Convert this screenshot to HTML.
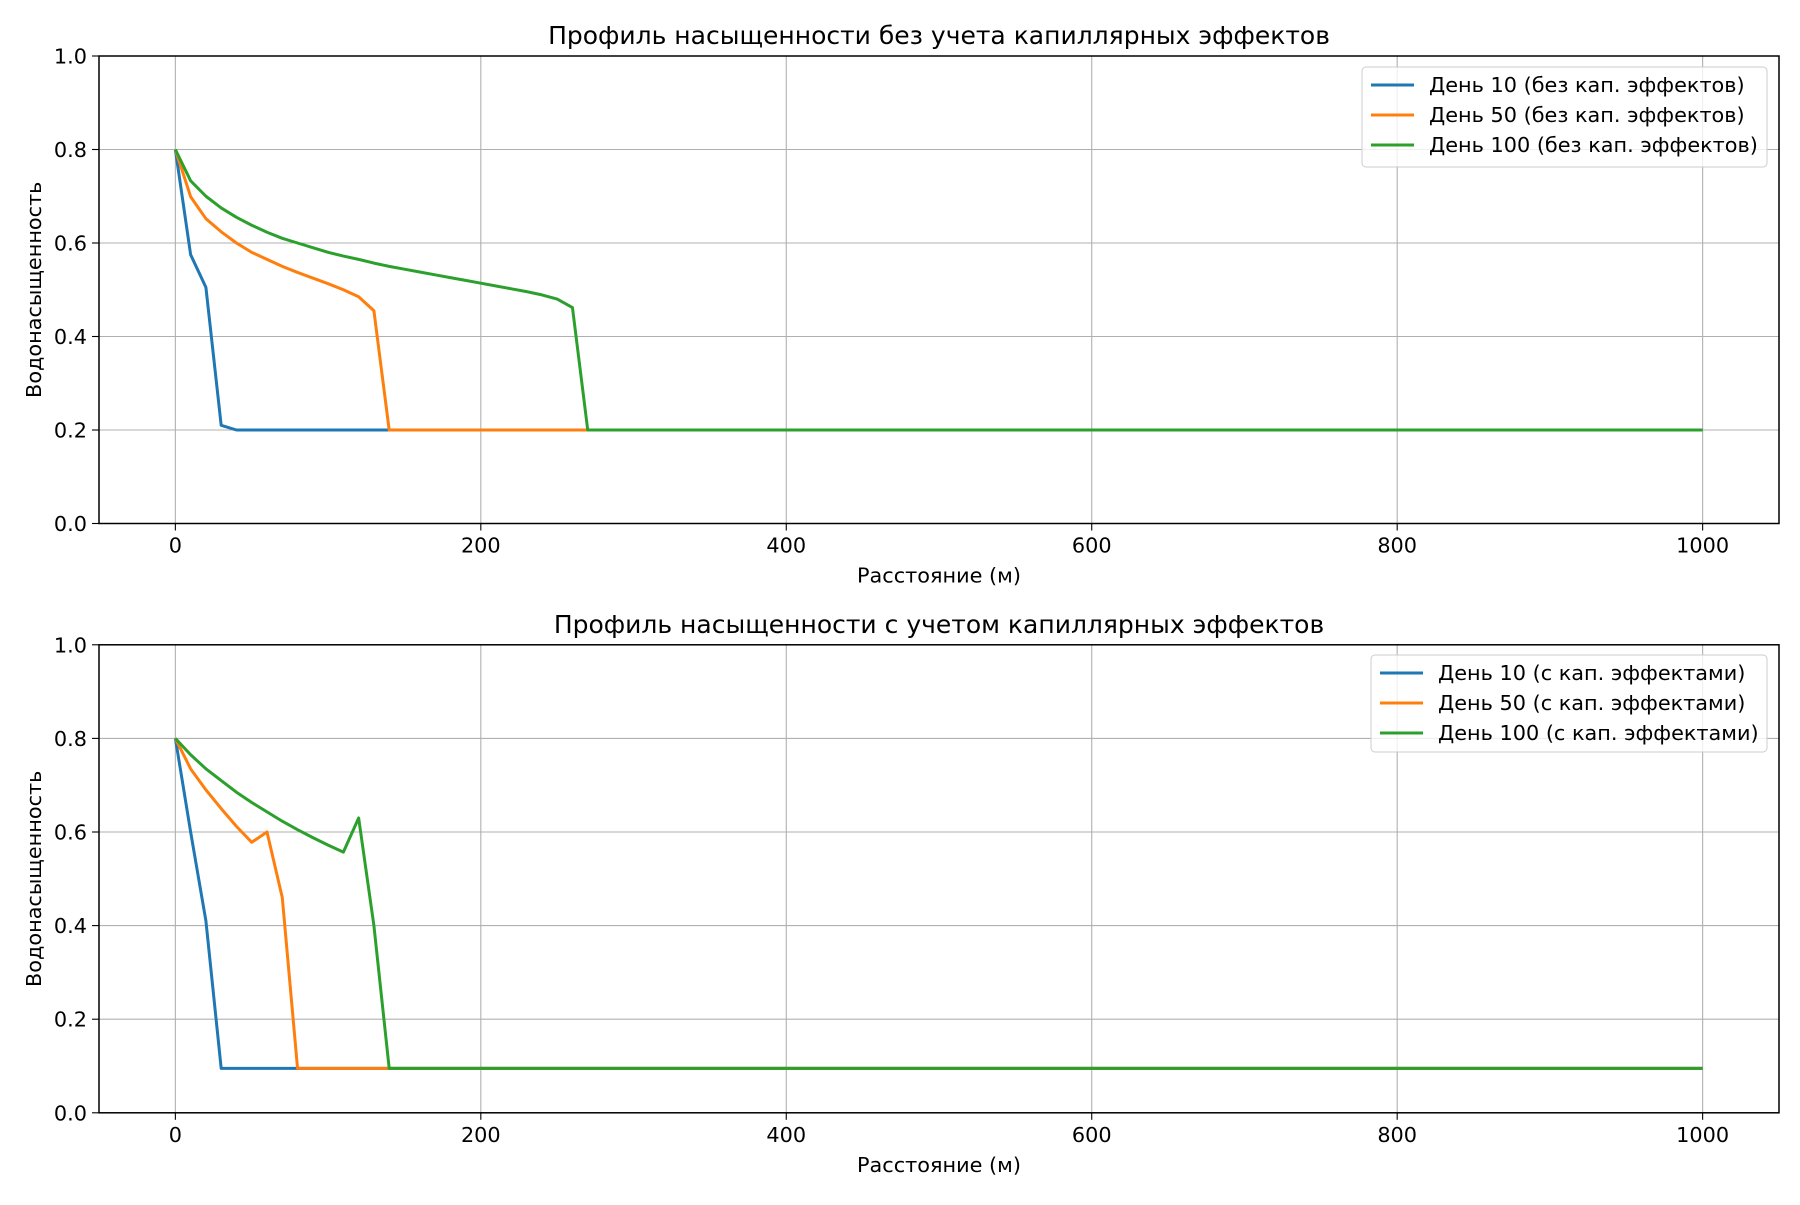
<!DOCTYPE html>
<html><head><meta charset="utf-8"><style>
body{margin:0;background:#fff}
svg text{font-family:"DejaVu Sans","Liberation Sans",sans-serif;fill:#000}
</style></head><body>
<svg id="fig" width="1800" height="1200" viewBox="0 0 1800 1200"></svg>
<script>
const xTicks=[0,200,400,600,800,1000];
const yTicks=[0.0,0.2,0.4,0.6,0.8,1.0];
const xTop10=[0,10,20,30,40,1000];
const yTop10=[0.8,0.575,0.505,0.21,0.2,0.2];
const xTop50=[0,10,20,30,40,50,60,70,80,90,100,110,120,130,140,1000];
const yTop50=[0.8,0.699,0.652,0.624,0.6,0.58,0.565,0.55,0.537,0.525,0.513,0.5,0.485,0.455,0.2,0.2];
const xTop100=[0,10,20,30,40,50,60,70,80,90,100,110,120,130,140,150,160,170,180,190,200,210,220,230,240,250,260,270,1000];
const yTop100=[0.8,0.733,0.7,0.675,0.655,0.638,0.623,0.61,0.6,0.59,0.58,0.572,0.565,0.557,0.55,0.544,0.538,0.532,0.526,0.52,0.514,0.508,0.502,0.496,0.489,0.48,0.462,0.2,0.2];
const xBot10=[0,10,20,30,1000];
const yBot10=[0.8,0.6,0.41,0.095,0.095];
const xBot50=[0,10,20,30,40,50,60,70,80,1000];
const yBot50=[0.8,0.735,0.69,0.65,0.612,0.578,0.6,0.46,0.095,0.095];
const xBot100=[0,10,20,30,40,50,60,70,80,90,100,110,120,130,140,1000];
const yBot100=[0.8,0.765,0.735,0.71,0.685,0.663,0.643,0.623,0.605,0.588,0.572,0.557,0.63,0.4,0.095,0.095];
const colors=['#1f77b4','#ff7f0e','#2ca02c'];
const NS='http://www.w3.org/2000/svg';
const svg=document.getElementById('fig');
function mk(tag,attrs,parent){const e=document.createElementNS(NS,tag);for(const k in attrs)e.setAttribute(k,attrs[k]);(parent||svg).appendChild(e);return e;}
function panel(cfg){
  const L=99,R=1779,T=cfg.top,B=cfg.bottom;
  const sx=v=>L+(v+50)/1100*(R-L);
  const sy=v=>B-v*(B-T);
  const g=mk('g',{});
  
  
  xTicks.forEach(t=>{
    const l=mk('line',{x1:sx(t),x2:sx(t),y1:T,y2:B,stroke:'#b0b0b0','stroke-width':1.1},g);
    
    mk('line',{x1:sx(t),x2:sx(t),y1:B,y2:B+7,stroke:'#000','stroke-width':1.1},g);
    const tx=mk('text',{x:sx(t),y:B+29,'text-anchor':'middle','font-size':20.8},g);
    tx.textContent=t;
  });
  yTicks.forEach(t=>{
    const l=mk('line',{x1:L,x2:R,y1:sy(t),y2:sy(t),stroke:'#b0b0b0','stroke-width':1.1},g);
    
    mk('line',{x1:L-7,x2:L,y1:sy(t),y2:sy(t),stroke:'#000','stroke-width':1.1},g);
    const tx=mk('text',{x:L-12,y:sy(t)+7.5,'text-anchor':'end','font-size':20.8},g);
    tx.textContent=t.toFixed(1);
  });
  cfg.series.forEach((s,i)=>{
    const p=mk('polyline',{points:s.x.map((v,j)=>sx(v)+','+sy(s.y[j])).join(' '),fill:'none',stroke:colors[i],'stroke-width':3,'stroke-linejoin':'round'},g);
    
  });
  const fr=mk('rect',{x:L,y:T,width:R-L,height:B-T,fill:'none',stroke:'#000','stroke-width':1.5},g);
  
  const ti=mk('text',{x:(L+R)/2,y:T-12,'text-anchor':'middle','font-size':25},g);
  ti.textContent=cfg.title;
  const xl=mk('text',{x:(L+R)/2,y:B+59,'text-anchor':'middle','font-size':20.8},g);
  xl.textContent='Расстояние (м)';
  const cy=(T+B)/2;
  const yl=mk('text',{x:41,y:cy,'text-anchor':'middle','font-size':20.8,transform:'rotate(-90 41 '+cy+')'},g);
  yl.textContent='Водонасыщенность';
  const lg=cfg.legend;
  const lb=mk('rect',{x:lg.x,y:lg.y,width:1767-lg.x,height:lg.h,rx:4,fill:'#fff','fill-opacity':0.8,stroke:'#ccc','stroke-width':1},g);
  
  cfg.series.forEach((s,i)=>{
    const ry=lg.y+18+i*30;
    const ll=mk('line',{x1:lg.x+9,x2:lg.x+52,y1:ry,y2:ry,stroke:colors[i],'stroke-width':3},g);
    
    const lt=mk('text',{x:lg.x+67,y:ry+7,'font-size':20.8},g);
    lt.textContent=s.label;
  });
}
panel({name:'top-chart',top:56,bottom:523.5,title:'Профиль насыщенности без учета капиллярных эффектов',legend:{x:1362,y:67,h:100},
  series:[{x:xTop10,y:yTop10,label:'День 10 (без кап. эффектов)'},{x:xTop50,y:yTop50,label:'День 50 (без кап. эффектов)'},{x:xTop100,y:yTop100,label:'День 100 (без кап. эффектов)'}]});
panel({name:'bottom-chart',top:644.8,bottom:1112.8,title:'Профиль насыщенности с учетом капиллярных эффектов',legend:{x:1371,y:655,h:97},
  series:[{x:xBot10,y:yBot10,label:'День 10 (с кап. эффектами)'},{x:xBot50,y:yBot50,label:'День 50 (с кап. эффектами)'},{x:xBot100,y:yBot100,label:'День 100 (с кап. эффектами)'}]});
</script>
</body></html>
